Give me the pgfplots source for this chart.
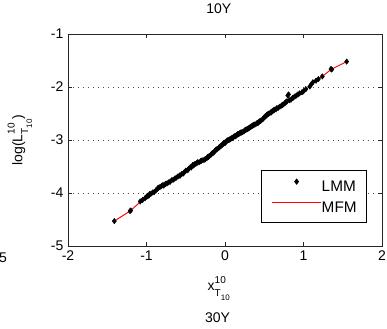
\documentclass[border=0pt]{standalone}
\usepackage{pgfplots}
\pgfplotsset{compat=1.18}
\usepackage{fontspec}
\setmainfont{Liberation Sans}
\newcommand\smallf[1]{{\fontsize{7.5}{7.5}\selectfont #1}}
\newcommand\tinyf[1]{{\fontsize{6}{6}\selectfont #1}}
\newcommand\supsub[2]{#1\rlap{\raisebox{1.05ex}{\smallf{10}}}\raisebox{-0.75ex}{\smallf{T}\raisebox{-0.55ex}{\tinyf{10}}}}
\pgfplotsset{
  lmmimage/.style={legend image code/.code={\draw[mark repeat=2,mark phase=2,##1] plot coordinates {(0pt,3.8pt) (18.5pt,3.8pt) (37pt,3.8pt)};}},
  mfmimage/.style={legend image code/.code={\draw[##1] (0pt,3.8pt) -- (37pt,3.8pt);}},
}
\begin{document}
\begin{tikzpicture}
\begin{axis}[
  at={(0pt,0pt)}, anchor=south west,
  scale only axis, width=235.5pt, height=159pt,
  font=\fontsize{10.5}{12}\selectfont,
  xmin=-2, xmax=2, ymin=-5, ymax=-1,
  xtick={-2,-1,0,1,2}, xticklabels={-2,-1,0,1,2},
  ytick={-5,-4,-3,-2,-1}, yticklabels={-5,-4,-3,-2,-1},
  tick align=inside, major tick length=3pt,
  axis line style={line width=0.6pt, black!85},
  every tick/.style={line width=0.6pt, black!85},
  ymajorgrids,
  grid style={line width=0.6pt, black!70, dash pattern=on 0.6pt off 3.15pt},
  title={10Y},
  title style={at={(axis description cs:0.48,1.08)}, anchor=center, inner sep=0pt},
  xlabel={\supsub{x}{}},
  xlabel style={at={(axis description cs:0.48,-0.2)}, anchor=center, inner sep=0pt},
  ylabel={log(\supsub{L}{})},
  ylabel style={at={(axis description cs:-0.153,0.5)}, anchor=center, inner sep=0pt},
  legend cell align=left,
  legend style={at={(rel axis cs:1,0)}, anchor=south east, xshift=-11.25pt, yshift=17.25pt,
    draw=black, line width=0.5pt, fill=white, inner xsep=7.5pt, inner ysep=6.5pt, row sep=7pt,
    font=\fontsize{11.5}{12}\selectfont,
    nodes={inner sep=0pt, text height=8pt, text depth=1pt},
    /tikz/every even column/.append style={column sep=6.5pt}},
  clip=false,
]
\addplot[only marks, mark=diamond*, mark size=2pt, black, lmmimage]
coordinates {
(-1.41,-4.53) (-1.21,-4.34) (-1.20,-4.33) (-1.08,-4.16) (-1.05,-4.13) (-1.02,-4.10)
(-0.98,-4.05) (-0.96,-4.02) (-0.94,-4.01) (-0.90,-3.98) (-0.86,-3.92) (-0.83,-3.89)
(-0.79,-3.85) (-0.76,-3.83) (-0.72,-3.80) (-0.70,-3.79) (-0.62,-3.71) (-0.60,-3.69)
(-0.55,-3.64) (-0.53,-3.63) (-0.50,-3.58) (-0.46,-3.54) (-0.44,-3.51) (-0.41,-3.47)
(-0.38,-3.45) (-0.35,-3.42) (-0.31,-3.40) (-0.28,-3.38) (-0.25,-3.36) (-0.23,-3.34)
(-0.20,-3.30) (-0.17,-3.26) (-0.14,-3.23) (-0.12,-3.19) (-0.10,-3.17) (-0.08,-3.15)
(-0.06,-3.12) (-0.03,-3.08) (-0.01,-3.05) (0.02,-3.02) (0.04,-3.00) (0.06,-2.99)
(0.09,-2.96) (0.12,-2.93) (0.15,-2.91) (0.18,-2.88) (0.21,-2.86) (0.24,-2.84)
(0.27,-2.80) (0.30,-2.78) (0.33,-2.75) (0.36,-2.72) (0.40,-2.69) (0.43,-2.66)
(0.46,-2.63) (0.50,-2.57) (0.53,-2.53) (0.56,-2.50) (0.60,-2.46) (0.63,-2.43)
(0.66,-2.40) (0.70,-2.37) (0.74,-2.33) (0.77,-2.29) (0.79,-2.27) (0.81,-2.14)
(0.84,-2.24) (0.89,-2.18) (0.93,-2.14) (0.98,-2.10) (1.08,-1.99) (1.12,-1.91)
(1.24,-1.80) (1.35,-1.66) (1.36,-1.67) (1.55,-1.52)
(-1.00,-4.07) (-0.99,-4.06) (-0.97,-4.05) (-0.92,-3.99) (-0.88,-3.95) (-0.85,-3.90)
(-0.81,-3.87) (-0.78,-3.86) (-0.74,-3.82) (-0.68,-3.76) (-0.66,-3.75) (-0.64,-3.73)
(-0.58,-3.67) (-0.57,-3.67) (-0.52,-3.61) (-0.48,-3.57) (-0.47,-3.56) (-0.43,-3.52)
(-0.40,-3.48) (-0.39,-3.46) (-0.36,-3.44) (-0.33,-3.42) (-0.30,-3.39) (-0.26,-3.37)
(-0.22,-3.32) (-0.21,-3.32) (-0.18,-3.28) (-0.16,-3.25) (-0.15,-3.24) (-0.13,-3.21)
(-0.11,-3.18) (-0.07,-3.13) (-0.05,-3.11) (-0.04,-3.10) (-0.02,-3.07) (0.00,-3.06)
(0.01,-3.04) (0.03,-3.01) (0.05,-3.00) (0.07,-2.98) (0.08,-2.97) (0.10,-2.96)
(0.11,-2.94) (0.13,-2.93) (0.14,-2.92) (0.16,-2.89) (0.17,-2.89) (0.19,-2.87)
(0.20,-2.86) (0.22,-2.85) (0.25,-2.82) (0.26,-2.81) (0.28,-2.80) (0.29,-2.79)
(0.31,-2.77) (0.32,-2.76) (0.34,-2.74) (0.35,-2.73) (0.37,-2.71) (0.38,-2.71)
(0.41,-2.68) (0.42,-2.68) (0.44,-2.65) (0.45,-2.64) (0.48,-2.61) (0.49,-2.59)
(0.51,-2.56) (0.52,-2.55) (0.54,-2.52) (0.55,-2.51) (0.58,-2.48) (0.59,-2.48)
(0.61,-2.45) (0.62,-2.44) (0.65,-2.42) (0.68,-2.39) (0.72,-2.35) (0.73,-2.34)
(0.76,-2.31) (0.78,-2.28) (0.82,-2.25) (0.86,-2.21) (0.87,-2.20) (0.91,-2.16)
(0.95,-2.12) (1.00,-2.08) (1.03,-2.04) (1.10,-1.95) (1.16,-1.88) (1.19,-1.85)
(0.80,-2.16)
};
\addlegendentry{LMM}
\addplot[red, line width=0.7pt, mfmimage]
coordinates {
(-1.41,-4.53) (-1.21,-4.34) (-1.08,-4.17) (-0.95,-4.02) (-0.83,-3.89) (-0.70,-3.79)
(-0.53,-3.63) (-0.40,-3.48) (-0.23,-3.34) (-0.09,-3.16) (0.04,-3.01) (0.23,-2.84)
(0.45,-2.65) (0.60,-2.47) (0.70,-2.37) (0.89,-2.18) (0.98,-2.10) (1.08,-1.99)
(1.12,-1.92) (1.24,-1.80) (1.35,-1.67) (1.55,-1.52)
};
\addlegendentry{MFM}
\node[anchor=center, inner sep=0pt] at (axis description cs:0.476,-0.34) {30Y};
\node[anchor=center, inner sep=0pt] at (axis description cs:-0.207,-0.0566) {5};
\end{axis}
\pgfresetboundingbox
\useasboundingbox (-51pt,-62.25pt) rectangle (239.25pt,184.5pt);
\end{tikzpicture}
\end{document}
